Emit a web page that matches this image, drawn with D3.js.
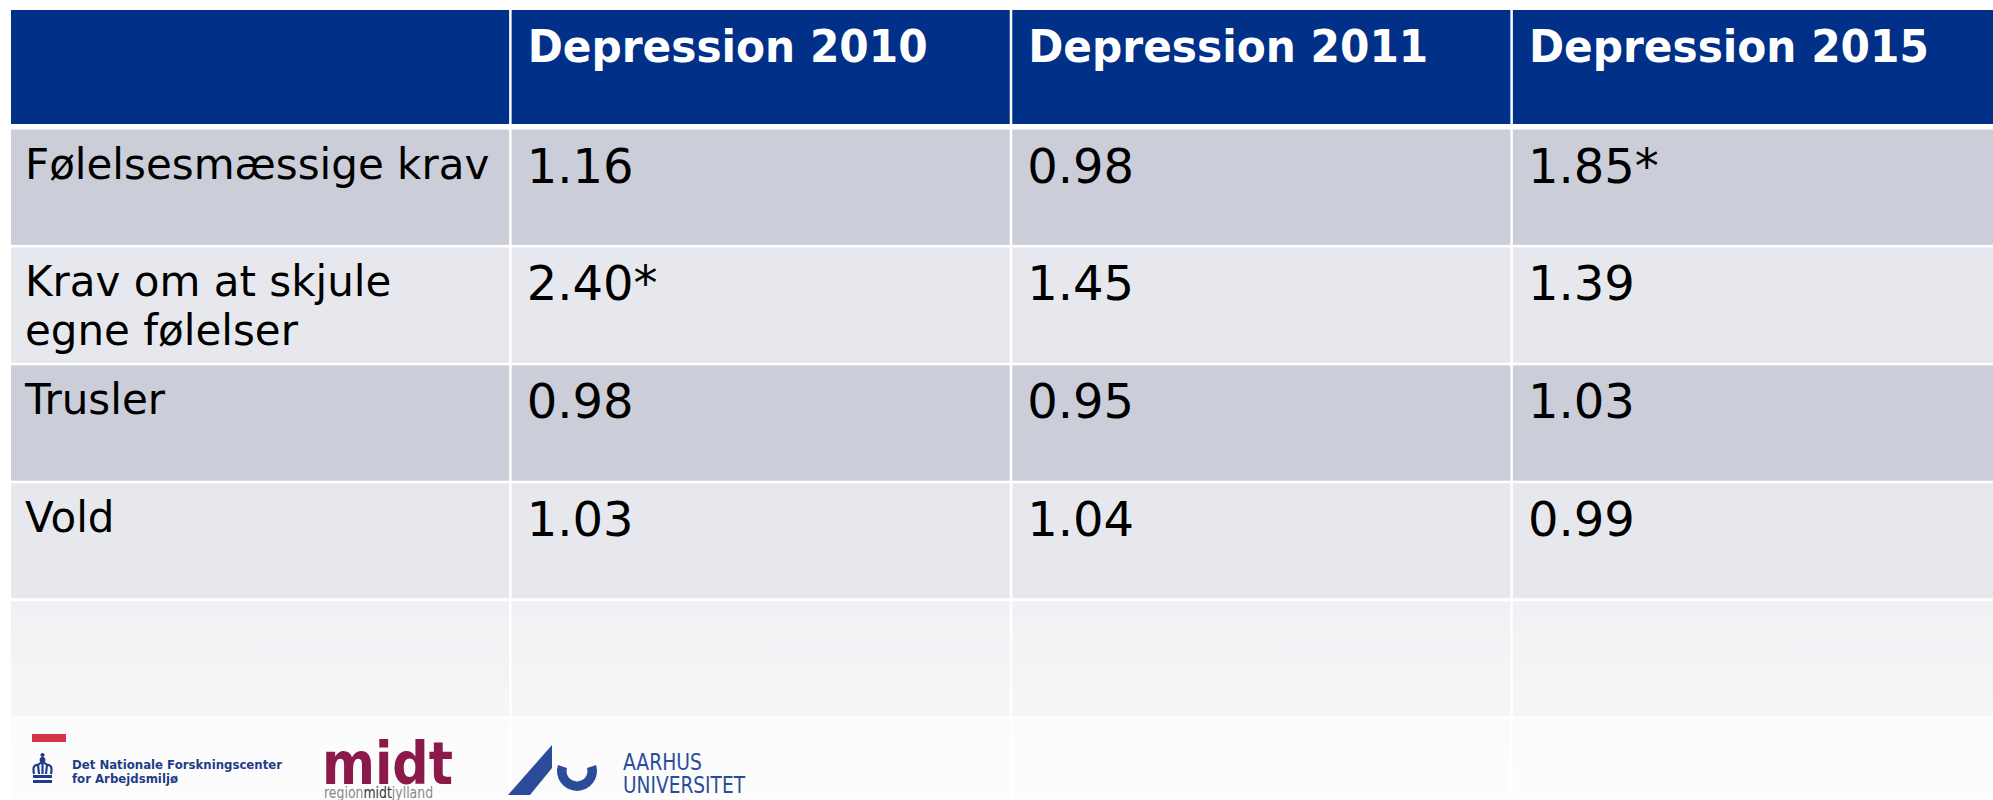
<!DOCTYPE html>
<html>
<head>
<meta charset="utf-8">
<script src="https://cdn.jsdelivr.net/npm/d3@7"></script>
<style>
  html, body { margin: 0; padding: 0; background: #fff; overflow: hidden; }
</style>
</head>
<body>
<div id="chart"></div>
<script>
// table content
var columns = ['Depression 2010', 'Depression 2011', 'Depression 2015'];
var rowLabels = ['Følelsesmæssige krav', 'Krav om at skjule egne følelser', 'Trusler', 'Vold'];
var dep2010 = [1.16, 2.40, 0.98, 1.03];
var dep2011 = [0.98, 1.45, 0.95, 1.04];
var dep2015 = [1.85, 1.39, 1.03, 0.99];
var sig2010 = [false, true, false, false];
var sig2011 = [false, false, false, false];
var sig2015 = [true, false, false, false];
var emptyRows = 2;

var width = 1993, height = 800;
var headerTop = 10, headerBottom = 124;
var pad = 16;
var fontFam = 'DejaVu Sans, Verdana, sans-serif';
var headerBlue = '#003087';
var rowFills = ['#CBCDD8', '#E7E8ED'];

var fmt = d3.format('.2f');
var series = [dep2010, dep2011, dep2015];
var sigs = [sig2010, sig2011, sig2015];

var rows = rowLabels.map(function(label, i){
  return {
    label: label,
    values: series.map(function(s, j){ return fmt(s[i]) + (sigs[j][i] ? '*' : ''); })
  };
});
d3.range(emptyRows).forEach(function(){ rows.push({label: '', values: ['', '', '']}); });

var colKeys = ['label'].concat(columns);
var x = d3.scaleBand().domain(colKeys).range([11, 2011]).paddingInner(0.005);
var y = d3.scaleBand().domain(d3.range(rows.length))
  .range([129.5, 129.5 + rows.length * 117.5]).paddingInner(0.022);

var svg = d3.select('#chart').append('svg')
  .attr('width', width)
  .attr('height', height);

var defs = svg.append('defs');
var fade = defs.append('linearGradient').attr('id', 'fade')
  .attr('gradientUnits', 'userSpaceOnUse')
  .attr('x1', 0).attr('x2', 0).attr('y1', 598).attr('y2', 800);
fade.append('stop').attr('offset', '0%').attr('stop-color', '#fff').attr('stop-opacity', 0.72);
fade.append('stop').attr('offset', '100%').attr('stop-color', '#fff').attr('stop-opacity', 0.9);

// header
var header = svg.append('g').attr('id', 'header');
header.selectAll('rect')
  .data(colKeys)
  .enter().append('rect')
    .attr('x', function(d){ return x(d); })
    .attr('y', headerTop)
    .attr('width', x.bandwidth())
    .attr('height', headerBottom - headerTop)
    .attr('fill', headerBlue);
// header font is a bit narrower than DejaVu Bold, squeeze it sideways
header.selectAll('text')
  .data(columns)
  .enter().append('text')
    .attr('transform', function(d){ return 'translate(' + (x(d) + pad) + ',62) scale(0.94,1)'; })
    .attr('font-family', fontFam)
    .attr('font-weight', 'bold')
    .attr('font-size', 45)
    .attr('fill', '#fff')
    .text(function(d){ return d; });

// body rows
var body = svg.append('g').attr('id', 'body');
var rowG = body.selectAll('g.row')
  .data(rows)
  .enter().append('g')
    .attr('class', 'row')
    .attr('transform', function(d, i){ return 'translate(0,' + y(i) + ')'; });

rowG.selectAll('rect')
  .data(function(d, i){ return colKeys.map(function(k){ return {k: k, i: i}; }); })
  .enter().append('rect')
    .attr('x', function(d){ return x(d.k); })
    .attr('y', 0)
    .attr('width', x.bandwidth())
    .attr('height', y.bandwidth())
    .attr('fill', function(d){ return rowFills[d.i % 2]; });

// word wrap for labels
function wrap(textSel, maxW, lineH){
  textSel.each(function(){
    var t = d3.select(this),
        words = t.text().split(/\s+/).filter(Boolean),
        line = [],
        tx = t.attr('x');
    t.text(null);
    var tspan = t.append('tspan').attr('x', tx).attr('dy', 0);
    words.forEach(function(w){
      line.push(w);
      tspan.text(line.join(' '));
      if (tspan.node().getComputedTextLength() > maxW && line.length > 1) {
        line.pop();
        tspan.text(line.join(' '));
        line = [w];
        tspan = t.append('tspan').attr('x', tx).attr('dy', lineH).text(w);
      }
    });
  });
}

rowG.append('text')
  .attr('class', 'label')
  .attr('x', x('label') + pad - 2)
  .attr('y', 49)
  .attr('font-family', fontFam)
  .attr('font-size', 42)
  .attr('fill', '#000')
  .text(function(d){ return d.label; })
  .call(wrap, x.bandwidth() - 2 * pad, 49);

rowG.selectAll('text.val')
  .data(function(d){ return d.values.map(function(v, j){ return {v: v, k: columns[j]}; }); })
  .enter().append('text')
    .attr('class', 'val')
    .attr('x', function(d){ return x(d.k) + pad - 1; })
    .attr('y', 53)
    .attr('font-family', fontFam)
    .attr('font-size', 48)
    .attr('fill', '#000')
    .text(function(d){ return d.v; });

// white fade under the footer
svg.append('rect')
  .attr('x', 0).attr('y', 598)
  .attr('width', width).attr('height', height - 598)
  .attr('fill', 'url(#fade)');

// footer logos
var logos = svg.append('g').attr('id', 'logos');

// NFA
var nfaBlue = '#1F3C88';
logos.append('rect').attr('x', 32).attr('y', 734).attr('width', 34).attr('height', 8).attr('fill', '#D2344A');
var crown = logos.append('g').attr('transform', 'translate(32,753)')
  .attr('stroke', nfaBlue).attr('fill', 'none').attr('stroke-width', 2.2);
crown.append('path').attr('d', 'M10.5,0 L10.5,5 M8.5,2 L12.5,2');
crown.append('circle').attr('cx', 10.5).attr('cy', 7).attr('r', 1.8).attr('fill', nfaBlue);
crown.append('path').attr('d', 'M2,21 Q0,11 6,12 Q10.5,7 15,12 Q21,11 19,21 M6,12 L7,21 M15,12 L14,21 M10.5,9.5 L10.5,21');
crown.append('rect').attr('x', 1).attr('y', 22).attr('width', 19).attr('height', 3).attr('fill', nfaBlue).attr('stroke', 'none');
crown.append('rect').attr('x', 1).attr('y', 27).attr('width', 19).attr('height', 3).attr('fill', nfaBlue).attr('stroke', 'none');
logos.append('text').attr('x', 72).attr('y', 769)
  .attr('font-family', fontFam).attr('font-weight', 'bold').attr('font-size', 13)
  .attr('textLength', 210).attr('lengthAdjust', 'spacingAndGlyphs')
  .attr('fill', nfaBlue).text('Det Nationale Forskningscenter');
logos.append('text').attr('x', 72).attr('y', 783)
  .attr('font-family', fontFam).attr('font-weight', 'bold').attr('font-size', 13)
  .attr('textLength', 106).attr('lengthAdjust', 'spacingAndGlyphs')
  .attr('fill', nfaBlue).text('for Arbejdsmiljø');

// Region Midtjylland
logos.append('text').attr('x', 322).attr('y', 784)
  .attr('font-family', fontFam).attr('font-weight', 'bold').attr('font-size', 58)
  .attr('textLength', 131).attr('lengthAdjust', 'spacingAndGlyphs')
  .attr('fill', '#8B1A4A').text('midt');
var rm = logos.append('text')
  .attr('transform', 'translate(324,798) scale(0.78,1)')
  .attr('font-family', fontFam).attr('font-size', 16)
  .attr('fill', '#888');
rm.append('tspan').text('region');
rm.append('tspan').attr('fill', '#333').text('midt');
rm.append('tspan').text('jylland');

// Aarhus Universitet
var auBlue = '#2B4C9B';
logos.append('path')
  .attr('d', 'M508,795 L552,745 L552,768 L530,795 Z')
  .attr('fill', auBlue);
logos.append('path')
  .attr('transform', 'translate(577,771)')
  .attr('d', d3.arc().innerRadius(10.5).outerRadius(20)
    .startAngle(Math.PI / 2 - 0.3).endAngle(3 * Math.PI / 2 + 0.3)())
  .attr('fill', auBlue);
logos.append('text').attr('x', 623).attr('y', 770)
  .attr('font-family', fontFam).attr('font-size', 23)
  .attr('textLength', 79).attr('lengthAdjust', 'spacingAndGlyphs')
  .attr('fill', auBlue).text('AARHUS');
logos.append('text').attr('x', 623).attr('y', 793)
  .attr('font-family', fontFam).attr('font-size', 23)
  .attr('textLength', 122).attr('lengthAdjust', 'spacingAndGlyphs')
  .attr('fill', auBlue).text('UNIVERSITET');
</script>
</body>
</html>
